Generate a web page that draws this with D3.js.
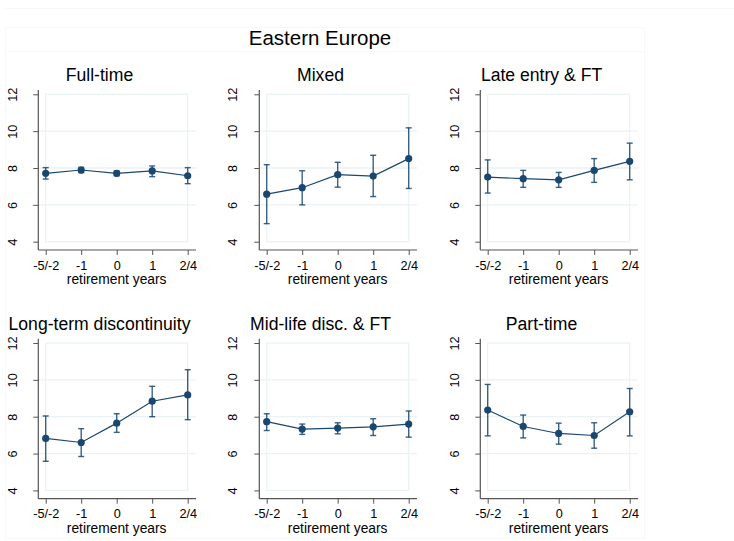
<!DOCTYPE html>
<html>
<head>
<meta charset="utf-8">
<script src="https://cdn.jsdelivr.net/npm/d3@7"></script>
<style>
  body { margin: 0; background: #fff; }
  svg { display: block; font-family: "Liberation Sans", Arial, Helvetica, sans-serif; }
</style>
</head>
<body>
<svg id="chart" width="734" height="541"></svg>
<script>
const categories = ['-5/-2', '-1', '0', '1', '2/4'];
const yTicks = [4, 6, 8, 10, 12];
const panelTitles = ['Full-time', 'Mixed', 'Late entry & FT', 'Long-term discontinuity', 'Mid-life disc. & FT', 'Part-time'];

const means = [
  [7.71, 7.89, 7.71, 7.84, 7.58],
  [6.58, 6.93, 7.64, 7.56, 8.51],
  [7.51, 7.42, 7.36, 7.87, 8.36],
  [6.82, 6.60, 7.65, 8.84, 9.18],
  [7.73, 7.33, 7.38, 7.45, 7.60],
  [8.36, 7.47, 7.09, 6.98, 8.27]
];
const lower = [
  [7.40, 7.75, 7.58, 7.53, 7.15],
  [4.98, 6.00, 6.96, 6.45, 6.89],
  [6.64, 6.95, 6.95, 7.22, 7.36],
  [5.58, 5.84, 7.15, 8.00, 7.84],
  [7.25, 7.04, 7.07, 6.98, 6.89],
  [6.96, 6.85, 6.51, 6.29, 6.96]
];
const upper = [
  [8.02, 8.04, 7.84, 8.11, 8.02],
  [8.18, 7.85, 8.31, 8.69, 10.18],
  [8.44, 7.87, 7.76, 8.51, 9.35],
  [8.04, 7.35, 8.16, 9.65, 10.55],
  [8.16, 7.60, 7.67, 7.89, 8.31],
  [9.75, 8.09, 7.65, 7.67, 9.53]
];

const navy = '#1a476f';
const gridColor = '#eaf2f3';
const axisColor = '#555';
const frameColor = '#f8f8f8';

const svg = d3.select('#chart');

// faint outer frame left over from the graph export
svg.append('line').attr('x1', 5).attr('x2', 734).attr('y1', 8.5).attr('y2', 8.5)
  .style('stroke', frameColor);
svg.append('rect').attr('x', 5.5).attr('y', 27.5).attr('width', 639).attr('height', 511)
  .style('fill', 'none').style('stroke', frameColor);
svg.append('line').attr('x1', 5).attr('x2', 644).attr('y1', 51.5).attr('y2', 51.5)
  .style('stroke', frameColor);

svg.append('text')
  .attr('x', 320)
  .attr('y', 44.5)
  .style('font-size', '20.5px')
  .style('text-anchor', 'middle')
  .style('fill', '#000')
  .text('Eastern Europe');

const colStep = 221;
const rowStep = 248.7;

panelTitles.forEach((title, i) => {
  const col = i % 3;
  const row = Math.floor(i / 3);
  const g = svg.append('g')
    .attr('transform', `translate(${col * colStep},${row * rowStep})`);

  const axisX = 38.3;
  const axisY = 250;
  const x = d3.scalePoint().domain(categories).range([45.7, 187.7]);
  const y = d3.scaleLinear().domain([4, 12]).range([241.7, 94.3]);

  // plot region outline and grid
  g.append('rect')
    .attr('x', x(categories[0]))
    .attr('y', y(12))
    .attr('width', x(categories[categories.length - 1]) - x(categories[0]))
    .attr('height', y(4) - y(12))
    .style('fill', 'none')
    .style('stroke', gridColor)
    .style('stroke-width', 1.2);

  g.selectAll('.grid')
    .data([6, 8, 10])
    .enter().append('line')
    .attr('class', 'grid')
    .attr('x1', axisX)
    .attr('x2', 196)
    .attr('y1', d => y(d))
    .attr('y2', d => y(d))
    .style('stroke', gridColor)
    .style('stroke-width', 1.3);

  // y axis
  const yAxis = g.append('g')
    .attr('transform', `translate(${axisX},0)`)
    .call(d3.axisLeft(y).tickValues(yTicks).tickSize(5).tickSizeOuter(0));
  yAxis.select('.domain').remove();
  yAxis.selectAll('line').style('stroke', axisColor);
  yAxis.selectAll('text')
    .attr('x', null)
    .attr('dy', null)
    .attr('transform', 'translate(-21.8,0) rotate(-90)')
    .style('text-anchor', 'middle')
    .style('font-size', '12.7px')
    .style('fill', '#000')
    .style('font-family', '"Liberation Sans", Arial, sans-serif');
  g.append('line')
    .attr('x1', axisX).attr('x2', axisX)
    .attr('y1', 90).attr('y2', axisY)
    .style('stroke', axisColor)
    .style('stroke-width', 1.2);

  // x axis
  const xAxis = g.append('g')
    .attr('transform', `translate(0,${axisY})`)
    .call(d3.axisBottom(x).tickSize(5).tickSizeOuter(0).tickPadding(5.6));
  xAxis.select('.domain').remove();
  xAxis.selectAll('line').style('stroke', axisColor);
  xAxis.selectAll('text')
    .style('font-size', '12.7px')
    .style('fill', '#000')
    .style('font-family', '"Liberation Sans", Arial, sans-serif');
  g.append('line')
    .attr('x1', axisX).attr('x2', 196)
    .attr('y1', axisY).attr('y2', axisY)
    .style('stroke', axisColor)
    .style('stroke-width', 1.2);

  g.append('text')
    .attr('x', 116.7)
    .attr('y', 284)
    .style('font-size', '13.8px')
    .style('text-anchor', 'middle')
    .style('fill', '#000')
    .text('retirement years');

  g.append('text')
    .attr('x', 99.5)
    .attr('y', 81.3)
    .style('font-size', '17.6px')
    .style('text-anchor', 'middle')
    .style('fill', '#000')
    .text(title);

  const pts = categories.map((c, j) => ({ c, m: means[i][j], lo: lower[i][j], hi: upper[i][j] }));

  // confidence intervals
  const bars = g.selectAll('.ci').data(pts).enter().append('g').attr('class', 'ci')
    .style('stroke', navy)
    .style('stroke-width', 1.4)
    .style('stroke-opacity', 0.85);
  bars.append('line')
    .attr('x1', d => x(d.c)).attr('x2', d => x(d.c))
    .attr('y1', d => y(d.lo)).attr('y2', d => y(d.hi));
  bars.append('line')
    .attr('x1', d => x(d.c) - 3).attr('x2', d => x(d.c) + 3)
    .attr('y1', d => y(d.lo)).attr('y2', d => y(d.lo));
  bars.append('line')
    .attr('x1', d => x(d.c) - 3).attr('x2', d => x(d.c) + 3)
    .attr('y1', d => y(d.hi)).attr('y2', d => y(d.hi));

  // connected means
  g.append('path')
    .datum(pts)
    .attr('d', d3.line().x(d => x(d.c)).y(d => y(d.m)))
    .style('fill', 'none')
    .style('stroke', navy)
    .style('stroke-width', 1.2);

  g.selectAll('.pt').data(pts).enter().append('circle')
    .attr('class', 'pt')
    .attr('cx', d => x(d.c))
    .attr('cy', d => y(d.m))
    .attr('r', 3.6)
    .style('fill', navy);
});
</script>
</body>
</html>
